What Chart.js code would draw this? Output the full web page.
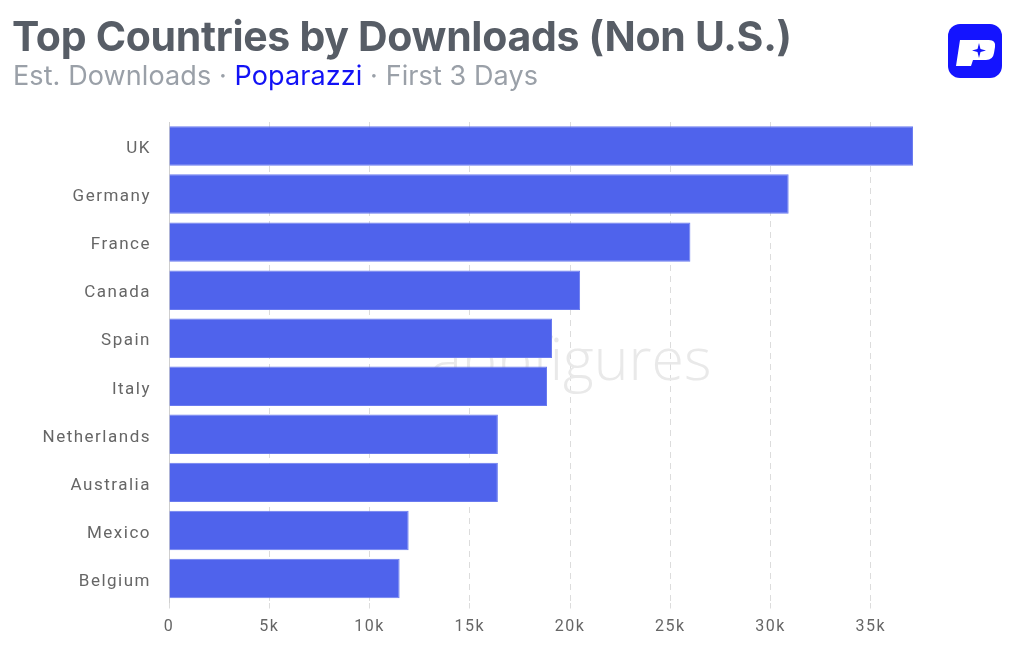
<!DOCTYPE html>
<html>
<head>
<meta charset="utf-8">
<script src="https://cdn.jsdelivr.net/npm/chart.js@4"></script>
<style>
  html, body { margin: 0; padding: 0; background: #fff; }
  body { width: 1024px; height: 647px; position: relative; overflow: hidden; font-family: Inter, "Noto Sans", sans-serif; }
  #title { position: absolute; left: 12px; top: 11px; font-size: 41px; font-weight: 700; color: #575d66; letter-spacing: -0.3px; white-space: nowrap; }
  #subtitle { position: absolute; left: 13px; top: 59px; font-size: 27px; color: #9aa0a8; white-space: nowrap; letter-spacing: 0.1px; }
  #subtitle .app { color: #1212f5; }
  #logo { position: absolute; left: 948px; top: 24px; }
  #chart { position: absolute; left: 0; top: 0; }
</style>
</head>
<body>
<canvas id="chart" width="1024" height="647"></canvas>
<div id="title">Top Countries by Downloads (Non U.S.)</div>
<div id="subtitle">Est. Downloads · <span class="app">Poparazzi</span> · First 3 Days</div>
<svg id="logo" width="54" height="54" viewBox="0 0 54 54">
  <rect x="0" y="0" width="54" height="54" rx="12" fill="#1414ff"/>
  <path d="M12 16 L41 16 Q48 16 47 23 L46 29 Q45 36 38 36 L25 36 L23 42 L8 42 Z" fill="#fff"/>
  <path d="M31 19 L32.5 25 L38 26.5 L32.5 28 L31 34 L29.5 28 L24 26.5 L29.5 25 Z" fill="#1414ff"/>
</svg>
<script>
const countries = ["UK", "Germany", "France", "Canada", "Spain", "Italy", "Netherlands", "Australia", "Mexico", "Belgium"];
const downloads = [37100, 30900, 26000, 20500, 19100, 18850, 16400, 16400, 11950, 11500];
const xTicks = [0, 5000, 10000, 15000, 20000, 25000, 30000, 35000];

// axis labels in the reference are slightly letter-spaced
const spacing = {
  id: "spacing",
  beforeLayout(chart) { chart.ctx.letterSpacing = "1.5px"; },
  beforeDraw(chart) { chart.ctx.letterSpacing = "1.5px"; },
};

const watermark = {
  id: "watermark",
  beforeDatasetsDraw(chart) {
    const ctx = chart.ctx;
    ctx.save();
    ctx.letterSpacing = "0px";
    ctx.font = "300 59px 'Open Sans', sans-serif";
    ctx.fillStyle = "#e9e9e9";
    ctx.textAlign = "center";
    ctx.textBaseline = "alphabetic";
    ctx.fillText("appfigures", 571, 380);
    ctx.restore();
  }
};

new Chart(document.getElementById("chart"), {
  type: "bar",
  data: {
    labels: countries,
    datasets: [{
      data: downloads,
      backgroundColor: "#4f63ec",
      borderColor: "#6a7bf0",
      borderWidth: 1,
      categoryPercentage: 1,
      barPercentage: 0.82,
    }],
  },
  plugins: [spacing, watermark],
  options: {
    indexAxis: "y",
    responsive: false,
    animation: false,
    devicePixelRatio: 1,
    layout: { padding: { top: 122, right: 108, bottom: 0, left: 0 } },
    plugins: { legend: { display: false }, tooltip: { enabled: false } },
    scales: {
      x: {
        min: 0,
        max: 37250,
        afterBuildTicks: (axis) => { axis.ticks = xTicks.map((v) => ({ value: v })); },
        afterFit: (scale) => { scale.height = 44.5; },
        border: { display: false, dash: [6, 5] },
        grid: { color: "#dcdcdc", tickLength: 6, lineWidth: 1 },
        ticks: {
          color: "#666",
          padding: 9,
          font: { family: "Roboto", size: 16 },
          callback: (v) => (v === 0 ? "0" : v / 1000 + "k"),
        },
      },
      y: {
        afterFit: (scale) => { scale.width = 169; },
        border: { display: true, color: "#cfcfcf" },
        grid: { display: false },
        ticks: { color: "#666", padding: 10, labelOffset: 3, font: { family: "Roboto", size: 17 } },
      },
    },
  },
});
</script>
</body>
</html>
